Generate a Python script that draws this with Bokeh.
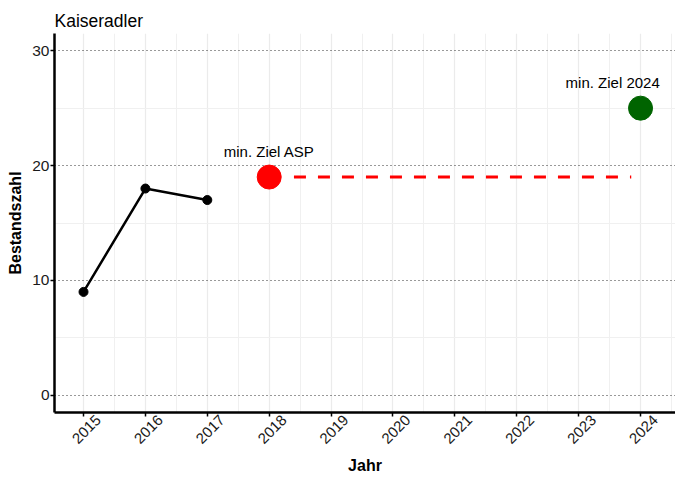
import math
from bokeh.plotting import figure
from bokeh.models import FixedTicker, Range1d, ColumnDataSource, LinearAxis
from bokeh.core.properties import value
from bokeh.embed import file_html
from bokeh.resources import INLINE

# data
jahre = [2015, 2016, 2017]
bestand = [9, 18, 17]
ziel_asp_jahr = [2018]
ziel_asp_wert = [19]
ziel_2024_jahr = [2024]
ziel_2024_wert = [25]
ziel_labels = ["min. Ziel ASP", "min. Ziel 2024"]
ziel_label_x = [2018, 2023.55]
ziel_label_y = [19, 25]
ziel_linie_x = [2018.4, 2023.85]
ziel_linie_y = [19, 19]
x_ticks = [2015, 2016, 2017, 2018, 2019, 2020, 2021, 2022, 2023, 2024]
y_ticks = [0, 10, 20, 30]

FONT = "Liberation Sans"

x_lo, x_hi = 2014.531, 2024.565
y_lo, y_hi = -1.5, 31.5
label_shift = 0.24  # horizontal shift of the rotated year labels (in years)

p = figure(width=675, height=477, output_backend="svg", toolbar_location=None,
           x_range=Range1d(x_lo, x_hi), y_range=Range1d(y_lo, y_hi),
           min_border_left=54, min_border_right=0, min_border_top=33, min_border_bottom=58)
p.outline_line_color = None
p.background_fill_color = "white"

p.title.text = "Kaiseradler"
p.title.text_font = FONT
p.title.text_font_size = "17.5px"
p.title.text_font_style = "normal"
p.title.text_color = "black"
p.title.align = "left"
p.title.standoff = 6

# main axes
p.xaxis.ticker = FixedTicker(ticks=x_ticks, minor_ticks=[])
p.xaxis.major_label_overrides = {t: "" for t in x_ticks}
p.yaxis.ticker = FixedTicker(ticks=y_ticks, minor_ticks=[])
for ax in (p.xaxis, p.yaxis):
    ax.axis_line_color = "black"
    ax.axis_line_width = 2.5
    ax.major_tick_line_color = "black"
    ax.major_tick_line_width = 1.5
    ax.major_tick_out = 4
    ax.major_tick_in = 0
    ax.minor_tick_line_color = None
    ax.major_label_text_font = FONT
    ax.major_label_text_font_size = "15.5px"
    ax.major_label_text_color = "#1a1a1a"
    ax.axis_label_text_font = FONT
    ax.axis_label_text_font_size = "16px"
    ax.axis_label_text_font_style = "bold"
    ax.axis_label_text_color = "black"
p.xaxis.major_label_standoff = 0
p.yaxis.axis_label = "Bestandszahl"
p.yaxis.major_label_standoff = 1
p.yaxis.axis_label_standoff = 5

# second (label-only) x axis, shifted so the rotated years sit centred under the ticks
p.extra_x_ranges = {"lbl": Range1d(x_lo - label_shift, x_hi - label_shift)}
lbl_axis = LinearAxis(x_range_name="lbl", ticker=FixedTicker(ticks=x_ticks, minor_ticks=[]),
                      axis_label="Jahr")
lbl_axis.major_label_overrides = {t: str(t) for t in x_ticks}
lbl_axis.axis_line_color = None
lbl_axis.major_tick_line_color = None
lbl_axis.minor_tick_line_color = None
lbl_axis.major_tick_out = 0
lbl_axis.major_tick_in = 0
lbl_axis.major_label_orientation = math.pi / 4
lbl_axis.major_label_standoff = 1
lbl_axis.major_label_text_font = FONT
lbl_axis.major_label_text_font_size = "15px"
lbl_axis.major_label_text_color = "#1a1a1a"
lbl_axis.axis_label_text_font = FONT
lbl_axis.axis_label_text_font_size = "16px"
lbl_axis.axis_label_text_font_style = "bold"
lbl_axis.axis_label_text_color = "black"
lbl_axis.axis_label_standoff = 6
p.add_layout(lbl_axis, "below")

# grids
p.xgrid.ticker = FixedTicker(ticks=x_ticks, minor_ticks=[t + 0.5 for t in x_ticks[:-1]] + [2014.5, 2024.5])
p.xgrid.grid_line_color = "#ebebeb"
p.xgrid.grid_line_width = 1.2
p.xgrid.minor_grid_line_color = "#f0f0f0"
p.xgrid.minor_grid_line_width = 1
p.ygrid.ticker = FixedTicker(ticks=y_ticks, minor_ticks=[5, 15, 25])
p.ygrid.grid_line_color = "#333333"
p.ygrid.grid_line_width = 1.2
p.ygrid.grid_line_dash = "1 3"
p.ygrid.minor_grid_line_color = "#f0f0f0"
p.ygrid.minor_grid_line_width = 1

# series
p.line(jahre, bestand, line_color="black", line_width=2.5)
p.scatter(jahre, bestand, size=9, fill_color="black", line_color="black")

p.line(ziel_linie_x, ziel_linie_y, line_color="#ff0000", line_width=3, line_dash="12 12")
p.scatter(ziel_asp_jahr, ziel_asp_wert, size=24, fill_color="#ff0000", line_color="#ff0000")
p.scatter(ziel_2024_jahr, ziel_2024_wert, size=24, fill_color="#006400", line_color="#006400")

src_lbl = ColumnDataSource(dict(x=ziel_label_x, y=ziel_label_y, t=ziel_labels))
p.text(x="x", y="y", text="t", source=src_lbl, y_offset=-26,
       text_align="center", text_baseline="middle",
       text_font=value(FONT), text_font_size="15px", text_color="black")

open("out.html", "w").write(file_html(p, INLINE))
